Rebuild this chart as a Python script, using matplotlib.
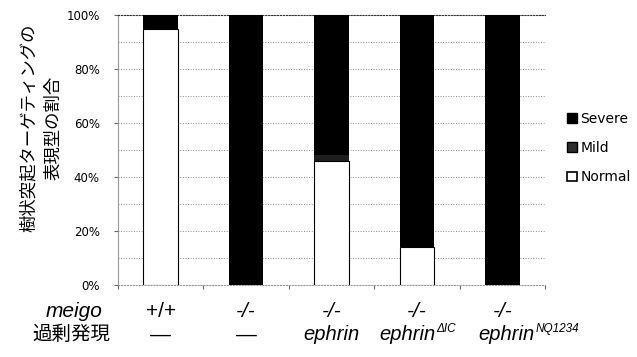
import numpy as np
import matplotlib.pyplot as plt
from matplotlib.patches import Patch
import matplotlib.transforms as mtransforms

plt.rcParams['font.family'] = ['DejaVu Sans', 'Noto Sans CJK JP']

# --- data ---
meigo = ["+/+", "-/-", "-/-", "-/-", "-/-"]
overexp = ["—", "—", "ephrin", "ephrin", "ephrin"]
overexp_sup = ["", "", "", "ΔIC", "NQ1234"]
normal = [95, 0, 46, 14, 0]
mild = [0, 0, 2, 0, 0]
severe = [5, 100, 52, 86, 100]

x = np.arange(len(meigo))
normal = np.array(normal)
mild = np.array(mild)
severe = np.array(severe)

fig = plt.figure(figsize=(6.37, 3.57), dpi=100)
ax = fig.add_axes([0.185, 0.2017, 0.671, 0.756])

w = 0.4
ax.bar(x, normal, w, color='white', edgecolor='black', linewidth=0.8, zorder=3)
ax.bar(x, mild, w, bottom=normal, color='#1e1e1e', linewidth=0, zorder=3)
ax.bar(x, severe, w, bottom=normal + mild, color='black', linewidth=0, zorder=3)

ax.set_xlim(-0.5, len(meigo) - 0.5)
ax.set_ylim(0, 100)
ax.set_yticks(np.arange(0, 101, 20))
ax.set_yticklabels([f"{v}%" for v in range(0, 101, 20)], fontsize=8.5)
ax.set_yticks(np.arange(0, 101, 10), minor=True)
ax.yaxis.grid(True, which='both', linestyle=':', color='#888888', linewidth=0.7, zorder=0)
ax.tick_params(axis='y', which='major', direction='out', length=3, pad=10, color='#666666')
ax.tick_params(axis='y', which='minor', length=0)

ax.set_xticks(np.arange(-0.5, len(meigo), 1.0))
ax.set_xticklabels([])
ax.tick_params(axis='x', direction='out', length=3, color='#666666')

ax.spines['right'].set_visible(False)
ax.spines['top'].set_linestyle(':')
ax.spines['top'].set_color('#333333')
ax.spines['left'].set_color('#999999')
ax.spines['left'].set_linewidth(0.8)
ax.spines['bottom'].set_color('#999999')
ax.spines['bottom'].set_linestyle(':')

# y label
fig.text(0.064, 0.642, "樹状突起ターゲティングの\n表現型の割合", rotation=90,
         ha='center', va='center', fontsize=12.5, linespacing=1.45,
         family=['Noto Sans CJK JP', 'DejaVu Sans'])

# genotype rows under the axis
trans = mtransforms.blended_transform_factory(ax.transData, fig.transFigure)
row1_y, row2_y = 0.128, 0.062
fig.text(0.116, row1_y, "meigo", ha='center', va='center', fontsize=15,
         style='italic', family='Liberation Sans')
fig.text(0.112, row2_y, "過剰発現", ha='center', va='center', fontsize=14,
         family=['Noto Sans CJK JP', 'DejaVu Sans'])

renderer = fig.canvas.get_renderer()
for xi, g, o, sup in zip(x, meigo, overexp, overexp_sup):
    ax.text(xi, row1_y, g, transform=trans, ha='center', va='center',
            fontsize=15, style='italic' if g == "-/-" else 'normal',
            family='Liberation Sans')
    if o == "—":
        ax.text(xi, row2_y, o, transform=trans, ha='center', va='center',
                fontsize=15, family='Liberation Sans')
        continue
    base = ax.text(xi, row2_y, o, transform=trans, ha='center', va='center',
                   fontsize=14.5, style='italic', family='Liberation Sans')
    if sup:
        s = ax.annotate(sup, xy=(1, 1), xycoords=base, xytext=(0.5, 1.5),
                        textcoords='offset points', ha='left', va='top',
                        fontsize=8.5, style='italic', family='Liberation Sans')
        sw = s.get_window_extent(renderer).width
        # the short superscript is centred with its base, the long one hangs right
        frac = 0.5 if len(sup) < 4 else 0.0
        shift = mtransforms.ScaledTranslation(-frac * sw / fig.dpi + (0.04 if frac == 0 else 0), 0,
                                              fig.dpi_scale_trans)
        base.set_transform(trans + shift)

handles = [Patch(facecolor='black', edgecolor='black', label='Severe'),
           Patch(facecolor='#2e2e2e', edgecolor='black', label='Mild'),
           Patch(facecolor='white', edgecolor='black', linewidth=1.2, label='Normal')]
fig.legend(handles=handles, loc='center left', bbox_to_anchor=(0.882, 0.585),
           frameon=False, fontsize=10, handlelength=0.7, handleheight=0.7,
           handletextpad=0.25, labelspacing=1.1, borderaxespad=0)

fig.savefig('out.png', dpi=100)
